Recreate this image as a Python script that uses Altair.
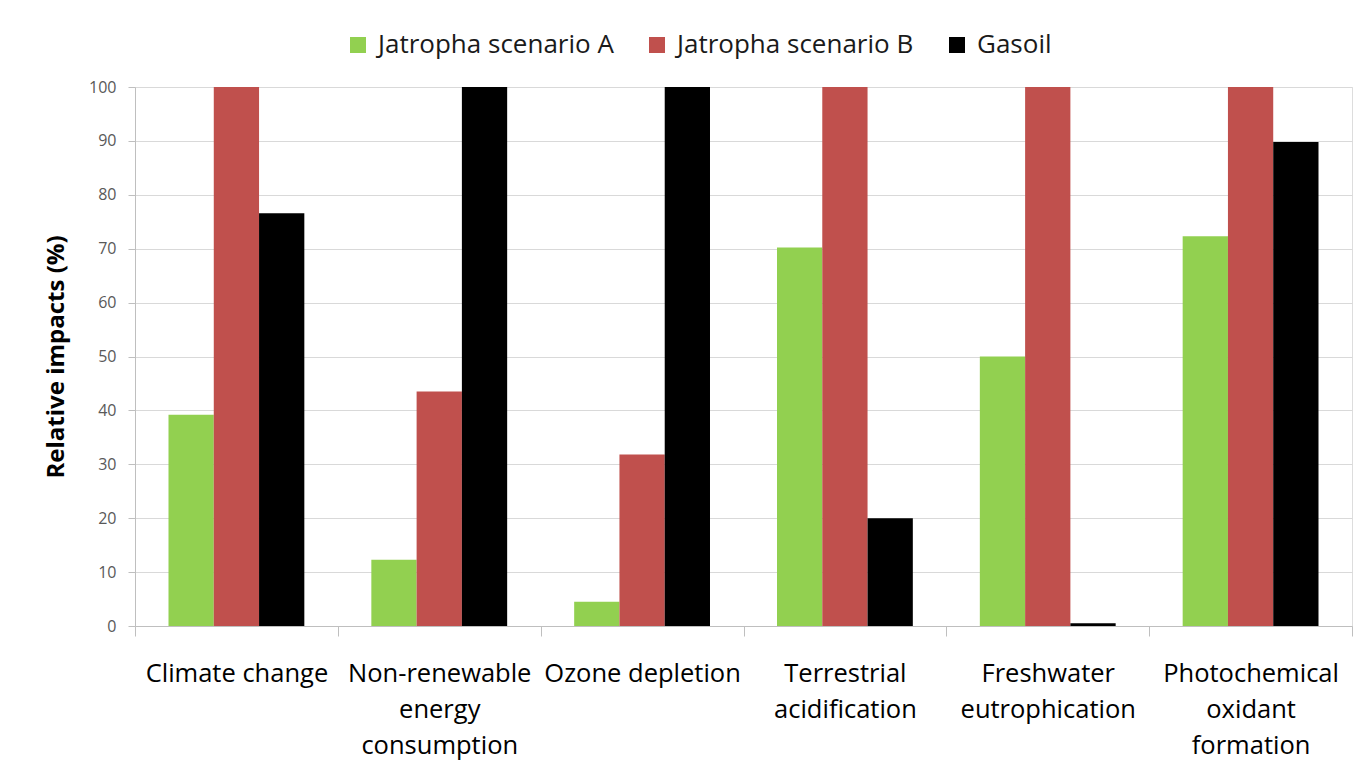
import altair as alt
import pandas as pd

categories = ["Climate change", "Non-renewable energy consumption", "Ozone depletion",
              "Terrestrial acidification", "Freshwater eutrophication",
              "Photochemical oxidant formation"]
series = ["Jatropha scenario A", "Jatropha scenario B", "Gasoil"]
scenario_a = [39.2, 12.3, 4.5, 70.2, 50.0, 72.3]
scenario_b = [100, 43.5, 31.8, 100, 100, 100]
gasoil = [76.6, 100, 100, 20.0, 0.5, 89.8]
colors = ["#92D050", "#C0504D", "#000000"]
y_ticks = [0, 10, 20, 30, 40, 50, 60, 70, 80, 90, 100]

rows = []
for name, vals in zip(series, [scenario_a, scenario_b, gasoil]):
    for c, v in zip(categories, vals):
        rows.append({"category": c, "series": name, "value": v})
df = pd.DataFrame(rows)

label_expr = (
    "datum.value == 'Non-renewable energy consumption' ? ['Non-renewable','energy','consumption'] : "
    "datum.value == 'Terrestrial acidification' ? ['Terrestrial','acidification'] : "
    "datum.value == 'Freshwater eutrophication' ? ['Freshwater','eutrophication'] : "
    "datum.value == 'Photochemical oxidant formation' ? ['Photochemical','oxidant','formation'] : "
    "datum.value"
)

FONT = "Open Sans"

bars = alt.Chart(df).mark_bar(strokeWidth=0).encode(
    x=alt.X("category:N", sort=categories, title=None,
            scale=alt.Scale(paddingInner=0, paddingOuter=0),
            axis=alt.Axis(labelAngle=0, labelExpr=label_expr, labelFontSize=25.5,
                          labelFont=FONT, labelColor="#000000", labelLineHeight=36,
                          labelLimit=0,
                          tickBand="extent", tickSize=10, tickColor="#BFBFBF",
                          domainColor="#BFBFBF", labelPadding=25, grid=False)),
    xOffset=alt.XOffset("series:N", sort=series,
                        scale=alt.Scale(paddingInner=0, paddingOuter=0.74)),
    y=alt.Y("value:Q", title="Relative impacts (%)",
            scale=alt.Scale(domain=[0, 100], nice=False),
            axis=alt.Axis(values=y_ticks, labelFontSize=16, labelFont=FONT,
                          labelColor="#595959", tickSize=7, tickColor="#BFBFBF",
                          domainColor="#BFBFBF", labelPadding=12, gridColor="#D9D9D9",
                          titleFontSize=24, titleFont=FONT, titleFontWeight="bold",
                          titleColor="#000000", titlePadding=20)),
    color=alt.Color("series:N", sort=series,
                    scale=alt.Scale(domain=series, range=colors),
                    legend=alt.Legend(title=None, orient="none", direction="horizontal",
                                      legendX=210, legendY=-55, symbolType="square",
                                      symbolSize=256, symbolStrokeWidth=0,
                                      labelFontSize=26, labelFont=FONT, labelLimit=0,
                                      labelColor="#1a1a1a", labelOffset=7,
                                      columnPadding=30)),
)

chart = bars.properties(
    width=1217, height=539,
    autosize=alt.AutoSizeParams(type="none"),
    padding={"left": 135, "top": 87, "right": 5, "bottom": 152},
).configure_view(strokeWidth=0).configure(background="white")

chart.save("out.html", embed_options={"renderer": "svg", "actions": False})
